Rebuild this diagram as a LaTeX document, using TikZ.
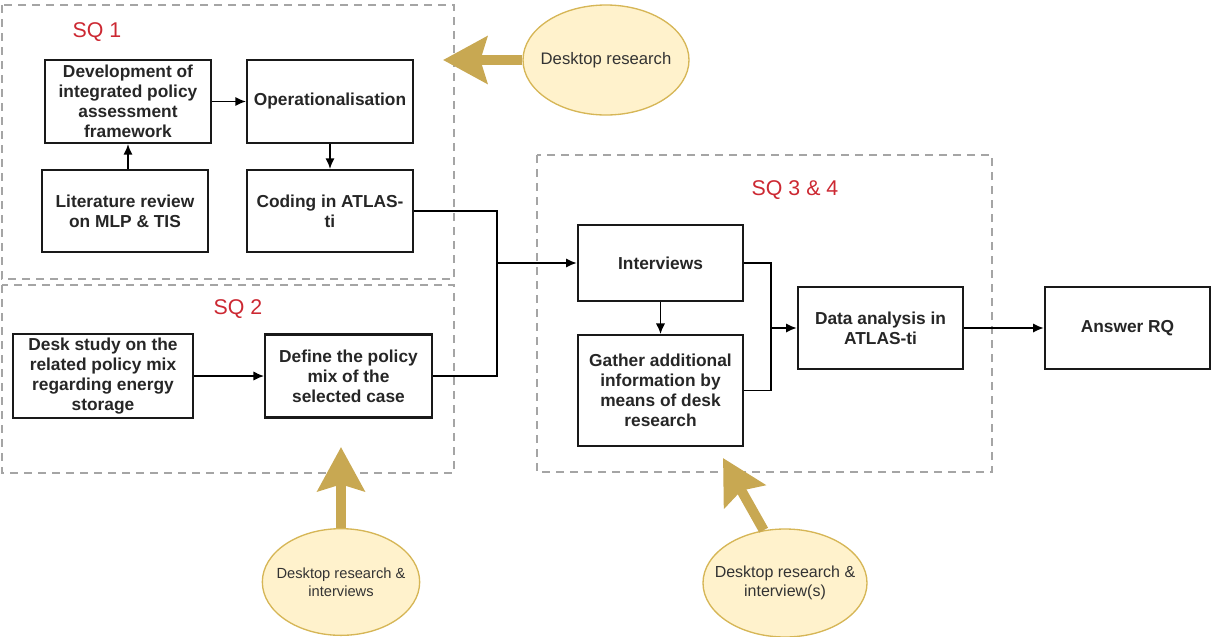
\documentclass[tikz,border=0pt]{standalone}
\usepackage{fontspec}
\setmainfont{Liberation Sans}
\usetikzlibrary{arrows.meta,shapes.geometric}
\definecolor{sqred}{RGB}{204,40,50}
\definecolor{framegray}{RGB}{165,165,165}
\definecolor{goldarrow}{RGB}{200,168,82}
\definecolor{ellfill}{RGB}{255,242,204}
\definecolor{elldraw}{RGB}{214,182,86}
\begin{document}
\begin{tikzpicture}[x=0.75pt,y=-0.75pt,
    stepbox/.style={draw=black!90,line width=1.6pt,inner sep=0pt,align=center,
      text=black!85,font=\fontsize{13}{15}\selectfont\bfseries},
    flow/.style={line width=1.3pt,-{Latex[length=8pt,width=7pt]}},
    link/.style={line width=1.3pt},
    sqframe/.style={draw=framegray,line width=1.5pt,dash pattern=on 6pt off 4.5pt},
    sqlabel/.style={text=sqred,font=\fontsize{16}{18}\selectfont},
    source/.style={ellipse,draw=elldraw,fill=ellfill,line width=1pt,inner sep=0pt},
    sourcetext/.style={align=center,text=black!80,font=\fontsize{12.5}{14}\selectfont},
    feed/.style={draw=goldarrow,line width=7.5pt,
      -{Stealth[length=33pt,width=35pt,inset=5pt,fill=goldarrow]}}]
  \useasboundingbox (0,0) rectangle (1212,636);
  \draw[sqframe] (2,5) rectangle (454,279);
  \draw[sqframe] (2,285) rectangle (454,473);
  \draw[sqframe] (537,155) rectangle (992,472);
  \node[sqlabel] (sq1) at (97,32) {SQ 1};
  \node[sqlabel] (sq2) at (238,309) {SQ 2};
  \node[sqlabel] (sq34) at (795,190) {SQ 3 \& 4};

  \node[stepbox,minimum width=124.5pt,minimum height=62.25pt] (dev) at (128,101.5)
    {Development of\\integrated policy\\assessment\\framework};
  \node[stepbox,minimum width=124.5pt,minimum height=62.25pt] (oper) at (330,101.5)
    {Operationalisation};
  \node[stepbox,minimum width=124.5pt,minimum height=61.5pt] (lit) at (125,211)
    {Literature review\\on MLP \& TIS};
  \node[stepbox,minimum width=124.5pt,minimum height=61.5pt] (cod) at (330,211)
    {Coding in ATLAS-\\ti};
  \node[stepbox,minimum width=135pt,minimum height=63pt] (desk) at (103,376)
    {Desk study on the\\related policy mix\\regarding energy\\storage};
  \node[stepbox,minimum width=125pt,minimum height=62.25pt] (def) at (348.5,376)
    {Define the policy\\mix of the\\selected case};
  \node[stepbox,minimum width=124pt,minimum height=57pt] (int) at (660.5,263)
    {Interviews};
  \node[stepbox,minimum width=124pt,minimum height=83pt] (gat) at (660.5,390.5)
    {Gather additional\\information by\\means of desk\\research};
  \node[stepbox,minimum width=124pt,minimum height=61.5pt] (dat) at (880.5,328)
    {Data analysis in\\ATLAS-ti};
  \node[stepbox,minimum width=124pt,minimum height=61pt] (ans) at (1127.5,328)
    {Answer RQ};

  \draw[flow] (dev) -- (oper);
  \draw[flow] (lit.north -| dev) -- (dev.south);
  \draw[flow] (oper) -- (cod);
  \draw[flow] (desk) -- (def);
  \coordinate (jn) at (497,263);
  \draw[link] (cod.east) -| (jn);
  \draw[link] (def.east) -| (jn);
  \draw[flow] (jn) -- (int.west);
  \draw[flow] (int) -- (gat);
  \coordinate (jn2) at (771,328);
  \draw[link] (int.east) -| (jn2);
  \draw[link] (gat.east) -| (jn2);
  \draw[flow] (jn2) -- (dat.west);
  \draw[flow] (dat) -- (ans);

  \node[source,minimum width=124.5pt,minimum height=82.5pt] (dr) at (606,60) {};
  \node[sourcetext] (drt) at (dr) {Desktop research};
  \node[source,minimum width=118pt,minimum height=80pt] (dri) at (341,582) {};
  \node[sourcetext,font=\fontsize{11}{13.5}\selectfont] (drit) at (dri)
    {Desktop research \&\\interviews};
  \node[source,minimum width=123pt,minimum height=81pt] (dris) at (785,583) {};
  \node[sourcetext,font=\fontsize{12}{14}\selectfont] (drist) at (dris)
    {Desktop research \&\\interview(s)};
  \coordinate (drtip) at (443,60);
  \coordinate (dritip) at (341,447);
  \coordinate (dristip) at (723,458);
  \draw[feed] (dr.west) -- (drtip);
  \draw[feed] (dri.north) -- (dritip);
  \draw[feed] (dris.112) -- (dristip);
\end{tikzpicture}
\end{document}
